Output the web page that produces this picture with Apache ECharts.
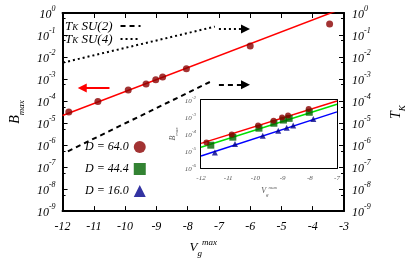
<!DOCTYPE html>
<html><head><meta charset="utf-8">
<script src="https://cdn.jsdelivr.net/npm/echarts@6/dist/echarts.min.js"></script>
<style>html,body{margin:0;padding:0;background:#fff}#c{width:415px;height:263px}</style>
</head><body><div id="c"></div>
<script>
// ---- data ----
const vg64 = [-11.8, -10.87, -9.9, -9.33, -9.02, -8.8, -8.04, -6.0, -3.46];
const bmax64 = [3.2e-5, 9.5e-5, 3.2e-4, 6.0e-4, 9.3e-4, 1.23e-3, 2.95e-3, 3.2e-2, 3.2e-1];
const vg44 = [-11.64, -10.83, -9.87, -9.32, -8.97, -8.76, -8.02];
const bmax44 = [2.2e-5, 6.5e-5, 2.2e-4, 4.3e-4, 6.6e-4, 8.3e-4, 1.9e-3];
const vg16 = [-11.49, -10.75, -9.73, -9.16, -8.85, -8.61, -7.87];
const bmax16 = [8.3e-6, 2.6e-5, 7.9e-5, 1.55e-4, 2.3e-4, 3.2e-4, 7.6e-4];
// fit lines (endpoints)
const fitMainX = [-12, -3];
const fitMainY = [2.2e-5, 1.7];
const fitInsetX = [-12, -7];
const fit64Y = [2.8e-5, 8.7e-3];
const fit44Y = [1.66e-5, 5.6e-3];
const fit16Y = [5.1e-6, 2.0e-3];
// Kondo temperatures
const tkSU2X = [-11.83, -7.21];
const tkSU2Y = [5.2e-7, 8.3e-4];
const tkSU4X = [-11.98, -7.13];
const tkSU4Y = [5.6e-3, 0.24];
// arrows (annotations)
const arrowSU2 = [[-7.0, 5.5e-4], [-6.15, 5.5e-4]];
const arrowSU4 = [[-7.0, 0.19], [-6.15, 0.19]];
const arrowB = [[-10.5, 3.9e-4], [-11.37, 3.9e-4]];
const xTicksMain = [-12, -3];
const xTicksInset = [-12, -7];

const zip = (a, b) => a.map((v, i) => [v, b[i]]);
const FF = 'Liberation Serif';
const expFmt = v => '{b|10}{e|' + Math.round(Math.log10(v)) + '}';
const richBig = {
  b: {fontFamily: FF, fontStyle: 'italic', fontSize: 12, color: '#000', lineHeight: 16, verticalAlign: 'bottom'},
  e: {fontFamily: FF, fontStyle: 'italic', fontSize: 8, color: '#000', lineHeight: 16, verticalAlign: 'top'}
};
const richSmall = {
  b: {fontFamily: FF, fontStyle: 'italic', fontSize: 7, color: '#555', lineHeight: 10, verticalAlign: 'bottom'},
  e: {fontFamily: FF, fontStyle: 'italic', fontSize: 5, color: '#555', lineHeight: 10, verticalAlign: 'top'}
};
const axLine = w => ({show: true, onZero: false, lineStyle: {color: '#000', width: w}});

const chart = echarts.init(document.getElementById('c'), null, {renderer: 'canvas'});
chart.setOption({
  animation: false,
  backgroundColor: '#fff',
  grid: [
    {left: 51, top: 13, width: 295, height: 199, show: false},
    {left: 201, top: 100, width: 136, height: 68, show: true, backgroundColor: '#fff', borderWidth: 0, z: 5}
  ],
  xAxis: [
    {gridIndex: 0, type: 'value', min: xTicksMain[0], max: xTicksMain[1], interval: 1, position: 'bottom',
     axisLine: axLine(2), axisTick: {inside: true, length: 5, lineStyle: {color: '#000'}},
     splitLine: {show: false},
     axisLabel: {margin: 10, fontFamily: FF, fontStyle: 'italic', fontSize: 12, color: '#000'},
     name: '{v|V}{g|g}{m|max}', nameLocation: 'middle', nameGap: 19,
     nameTextStyle: {rich: {
       v: {fontFamily: FF, fontStyle: 'italic', fontSize: 13, color: '#000', lineHeight: 20, verticalAlign: 'middle'},
       g: {fontFamily: FF, fontStyle: 'italic', fontSize: 9, color: '#000', lineHeight: 20, verticalAlign: 'bottom'},
       m: {fontFamily: FF, fontStyle: 'italic', fontSize: 9, color: '#000', lineHeight: 20, verticalAlign: 'top'}
     }}},
    {gridIndex: 0, type: 'value', min: xTicksMain[0], max: xTicksMain[1], interval: 1, position: 'top',
     axisLine: axLine(2), axisTick: {inside: true, length: 5, lineStyle: {color: '#000'}},
     splitLine: {show: false}, axisLabel: {show: false}},
    {gridIndex: 1, type: 'value', min: xTicksInset[0], max: xTicksInset[1], interval: 1, position: 'bottom',
     axisLine: axLine(2), axisTick: {inside: true, length: 3, lineStyle: {color: '#000'}},
     splitLine: {show: false},
     axisLabel: {margin: 7, fontFamily: FF, fontStyle: 'italic', fontSize: 7, color: '#555'},
     name: '{v|V}{g|g}{m|max}', nameLocation: 'middle', nameGap: 17,
     nameTextStyle: {rich: {
       v: {fontFamily: FF, fontStyle: 'italic', fontSize: 8, color: '#555', lineHeight: 12, verticalAlign: 'middle'},
       g: {fontFamily: FF, fontStyle: 'italic', fontSize: 5, color: '#555', lineHeight: 12, verticalAlign: 'bottom'},
       m: {fontFamily: FF, fontStyle: 'italic', fontSize: 5, color: '#555', lineHeight: 12, verticalAlign: 'top'}
     }}},
    {gridIndex: 1, type: 'value', min: xTicksInset[0], max: xTicksInset[1], interval: 1, position: 'top',
     axisLine: axLine(2), axisTick: {inside: true, length: 3, lineStyle: {color: '#000'}},
     splitLine: {show: false}, axisLabel: {show: false}}
  ],
  yAxis: [
    {gridIndex: 0, type: 'log', logBase: 10, min: 1e-9, max: 1, splitNumber: 9, position: 'left',
     axisLine: axLine(2), axisTick: {inside: true, length: 5, lineStyle: {color: '#000'}},
     minorTick: {show: true, splitNumber: 2, length: 3, lineStyle: {color: '#000'}},
     splitLine: {show: false},
     axisLabel: {margin: 7, formatter: expFmt, rich: richBig},
     name: '{b|B}{s|max}', nameLocation: 'middle', nameGap: 36,
     nameTextStyle: {rich: {
       b: {fontFamily: FF, fontStyle: 'italic', fontSize: 14, color: '#000', lineHeight: 18, verticalAlign: 'top'},
       s: {fontFamily: FF, fontStyle: 'italic', fontSize: 9, color: '#000', lineHeight: 18, verticalAlign: 'bottom'}
     }}},
    {gridIndex: 0, type: 'log', logBase: 10, min: 1e-9, max: 1, splitNumber: 9, position: 'right',
     axisLine: axLine(2), axisTick: {inside: true, length: 5, lineStyle: {color: '#000'}},
     minorTick: {show: true, splitNumber: 2, length: 3, lineStyle: {color: '#000'}},
     splitLine: {show: false},
     axisLabel: {margin: 8, formatter: expFmt, rich: richBig},
     name: '{b|T}{s|K}', nameLocation: 'middle', nameGap: 45,
     nameTextStyle: {rich: {
       b: {fontFamily: FF, fontStyle: 'italic', fontSize: 14, color: '#000', lineHeight: 18, verticalAlign: 'top'},
       s: {fontFamily: FF, fontStyle: 'italic', fontSize: 9, color: '#000', lineHeight: 18, verticalAlign: 'bottom'}
     }}},
    {gridIndex: 1, type: 'log', logBase: 10, min: 1e-6, max: 1e-2, splitNumber: 4, position: 'left',
     axisLine: axLine(2), axisTick: {inside: true, length: 3, lineStyle: {color: '#000'}},
     splitLine: {show: false},
     axisLabel: {margin: 5, formatter: expFmt, rich: richSmall},
     name: '{b|B}{s|max}', nameLocation: 'middle', nameGap: 22,
     nameTextStyle: {rich: {
       b: {fontFamily: FF, fontStyle: 'italic', fontSize: 8, color: '#555', lineHeight: 10, verticalAlign: 'top'},
       s: {fontFamily: FF, fontStyle: 'italic', fontSize: 5, color: '#555', lineHeight: 10, verticalAlign: 'bottom'}
     }}},
    {gridIndex: 1, type: 'log', logBase: 10, min: 1e-6, max: 1e-2, splitNumber: 4, position: 'right',
     axisLine: axLine(2), axisTick: {inside: true, length: 3, lineStyle: {color: '#000'}},
     splitLine: {show: false}, axisLabel: {show: false}}
  ],
  legend: [
    {left: 60, top: 15, orient: 'vertical', align: 'right', itemGap: 0, itemWidth: 20, itemHeight: 10,
     itemStyle: {opacity: 0},
     data: ['T_K SU(2)', 'T_K SU(4)'],
     formatter: n => '{t|T}{k|K}{t| ' + n.slice(4) + '}',
     textStyle: {padding: [0, 3, 0, 0], rich: {
       t: {fontFamily: FF, fontStyle: 'italic', fontSize: 13, color: '#000', lineHeight: 12, verticalAlign: 'top'},
       k: {fontFamily: FF, fontStyle: 'italic', fontSize: 9, color: '#000', lineHeight: 12, verticalAlign: 'bottom'}
     }}},
    {left: 80, top: 136, orient: 'vertical', align: 'right', itemGap: 10, itemWidth: 12, itemHeight: 12,
     data: ['D = 64.0', 'D = 44.4', 'D = 16.0'],
     textStyle: {fontFamily: FF, fontStyle: 'italic', fontSize: 12, color: '#000'}}
  ],
  series: [
    {type: 'line', xAxisIndex: 0, yAxisIndex: 0, data: zip(fitMainX, fitMainY), symbol: 'none', clip: true,
     lineStyle: {color: '#ff0000', width: 1.5}, z: 2},
    {name: 'D = 64.0', type: 'scatter', xAxisIndex: 0, yAxisIndex: 0, data: zip(vg64, bmax64),
     symbol: 'circle', symbolSize: 7, itemStyle: {color: '#8b0000'}, z: 3},
    {name: 'T_K SU(2)', type: 'line', xAxisIndex: 0, yAxisIndex: 1, data: zip(tkSU2X, tkSU2Y),
     symbol: 'none', showSymbol: false,
     lineStyle: {color: '#000', width: 2, type: [5, 4]}, itemStyle: {color: '#000'}},
    {name: 'T_K SU(4)', type: 'line', xAxisIndex: 0, yAxisIndex: 1, data: zip(tkSU4X, tkSU4Y),
     symbol: 'none', showSymbol: false,
     lineStyle: {color: '#000', width: 2, type: [2, 3]}, itemStyle: {color: '#000'}},
    {name: 'D = 44.4', type: 'scatter', xAxisIndex: 2, yAxisIndex: 2, data: zip(vg44, bmax44),
     symbol: 'rect', symbolSize: 7, itemStyle: {color: '#006400'}, z: 8},
    {name: 'D = 16.0', type: 'scatter', xAxisIndex: 2, yAxisIndex: 2, data: zip(vg16, bmax16),
     symbol: 'triangle', symbolSize: 6, itemStyle: {color: '#00008b'}, z: 8},
    {type: 'lines', coordinateSystem: 'cartesian2d', xAxisIndex: 0, yAxisIndex: 1,
     data: [{coords: arrowSU2}], symbol: ['none', 'triangle'], symbolSize: 9,
     lineStyle: {color: '#000', width: 2, type: [5, 4], opacity: 1}},
    {type: 'lines', coordinateSystem: 'cartesian2d', xAxisIndex: 0, yAxisIndex: 1,
     data: [{coords: arrowSU4}], symbol: ['none', 'triangle'], symbolSize: 9,
     lineStyle: {color: '#000', width: 2, type: [2, 3], opacity: 1}},
    {type: 'lines', coordinateSystem: 'cartesian2d', xAxisIndex: 0, yAxisIndex: 0,
     data: [{coords: arrowB}], symbol: ['none', 'triangle'], symbolSize: 9,
     lineStyle: {color: '#ff0000', width: 2, opacity: 1}},
    {type: 'line', xAxisIndex: 2, yAxisIndex: 2, data: zip(fitInsetX, fit64Y), symbol: 'none', clip: true,
     lineStyle: {color: '#ff0000', width: 1.5}, z: 6},
    {type: 'line', xAxisIndex: 2, yAxisIndex: 2, data: zip(fitInsetX, fit44Y), symbol: 'none', clip: true,
     lineStyle: {color: '#00e000', width: 1.5}, z: 6},
    {type: 'line', xAxisIndex: 2, yAxisIndex: 2, data: zip(fitInsetX, fit16Y), symbol: 'none', clip: true,
     lineStyle: {color: '#0000ff', width: 1.5}, z: 6},
    {type: 'scatter', xAxisIndex: 2, yAxisIndex: 2, data: zip(vg64, bmax64).filter(p => p[0] <= -7),
     symbol: 'circle', symbolSize: 6, itemStyle: {color: '#8b0000'}, z: 8}
  ]
});
</script></body></html>
